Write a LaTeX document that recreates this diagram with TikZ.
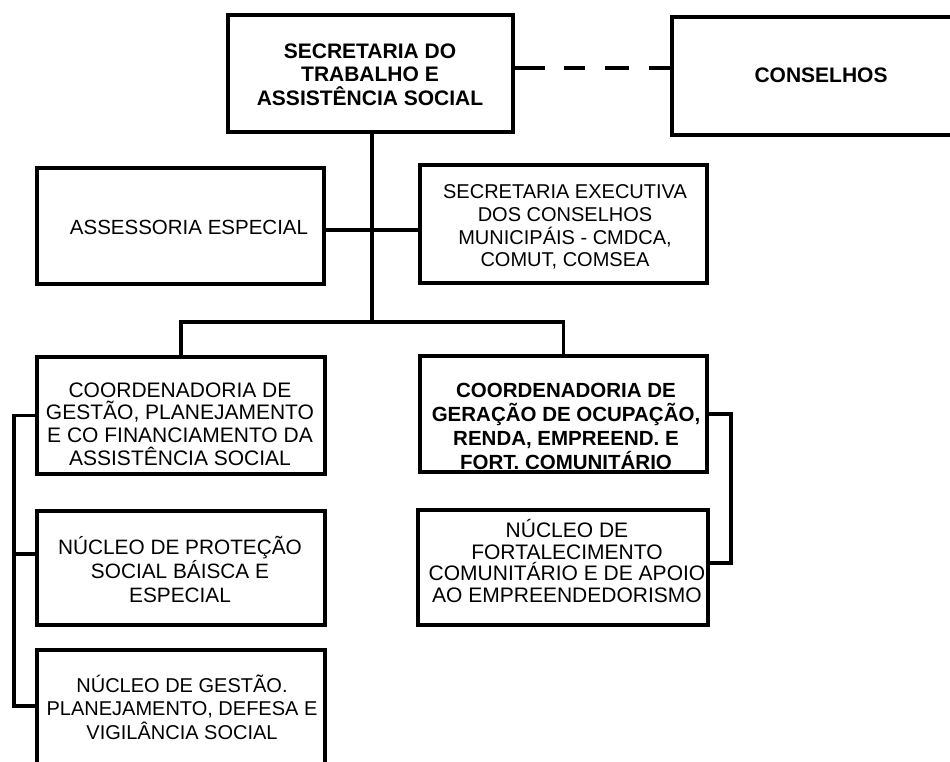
\documentclass[tikz,border=0pt]{standalone}
\usepackage{fontspec}
\setmainfont{Liberation Sans}
\begin{document}
\begin{tikzpicture}[x=1pt,y=-1pt,
  frame/.style 2 args={draw,line width=3.8pt,inner sep=0pt,minimum width=#1pt,minimum height=#2pt},
  txt/.style={align=center,inner sep=0pt,font=\fontsize{20.5}{23}\selectfont},
  btxt/.style={align=center,inner sep=0pt,font=\fontsize{21}{23.5}\selectfont\bfseries},
  conn/.style={line width=3.5pt}]
\path[use as bounding box] (0,0) rectangle (950,762);
\fill[white] (0,0) rectangle (950,762);
\clip (0,0) rectangle (950,762);
% frames
\node[frame={285}{117}] (top) at (370.5,73.5) {};
\node[frame={293}{118}] (cons) at (818.5,76) {};
\node[frame={287}{116}] (assess) at (180.5,226) {};
\node[frame={287}{118}] (exec) at (563.5,224) {};
\node[frame={288}{117}] (c1) at (181,415.5) {};
\node[frame={287}{116}] (c2) at (563.5,414) {};
\node[frame={288}{114}] (prot) at (181,568) {};
\node[frame={290}{115}] (fort) at (563,567.5) {};
\node[frame={288}{140}] (gest) at (181,720) {};
% texts
\node[btxt] (topT) at (370,74.5) {SECRETARIA DO\\TRABALHO E\\ASSISTÊNCIA SOCIAL};
\node[btxt] (consT) at (821,75) {CONSELHOS};
\node[txt] (assessT) at (189,227) {ASSESSORIA ESPECIAL};
\node[txt,font=\fontsize{20}{22.7}\selectfont] (execT) at (565,227) {SECRETARIA EXECUTIVA\\DOS CONSELHOS\\MUNICIPÁIS - CMDCA,\\COMUT, COMSEA};
\node[txt,font=\fontsize{21}{22.7}\selectfont] (c1T) at (180,424) {COORDENADORIA DE\\GESTÃO, PLANEJAMENTO\\E CO FINANCIAMENTO DA\\ASSISTÊNCIA SOCIAL};
\node[btxt,font=\fontsize{20.5}{24}\selectfont\bfseries] (c2T) at (566,426) {COORDENADORIA DE\\GERAÇÃO DE OCUPAÇÃO,\\RENDA, EMPREEND. E\\FORT. COMUNITÁRIO};
\node[txt,font=\fontsize{20.8}{24}\selectfont] (protT) at (180,569) {NÚCLEO DE PROTEÇÃO\\SOCIAL BÁISCA E\\ESPECIAL};
\node[txt,font=\fontsize{21}{21.8}\selectfont] (fortT) at (567,561) {NÚCLEO DE\\FORTALECIMENTO\\COMUNITÁRIO E DE APOIO\\AO EMPREENDEDORISMO};
\node[txt,font=\fontsize{20}{23.5}\selectfont] (gestT) at (182,707) {NÚCLEO DE GESTÃO.\\PLANEJAMENTO, DEFESA E\\VIGILÂNCIA SOCIAL};
% connectors
\coordinate (j1) at (372,322);
\coordinate (lx) at (14,0);
\coordinate (rb) at (731,563);
\draw[conn,dash pattern={on 30pt off 19pt on 21pt off 20pt on 24pt off 20pt on 25pt off 10pt}]
  ([yshift=5.5pt]top.east) -- ([yshift=5.5pt]top.east -| cons.west);
\draw[conn] (top.south -| j1) -- (j1);
\draw[conn,line width=4pt] ([yshift=-4pt]assess.east) -- ([yshift=-4pt]assess.east -| exec.west);
\draw[conn] (c1.north) |- (j1) -| (c2.north);
\draw[conn] (c1.west) -| ([yshift=14pt]gest.west -| lx) -- ([yshift=14pt]gest.west);
\draw[conn] ([yshift=14pt]prot.west) -- ([yshift=14pt]prot.west -| lx);
\draw[conn] (c2.east) -| (rb) -- (rb -| fort.east);
\end{tikzpicture}
\end{document}
